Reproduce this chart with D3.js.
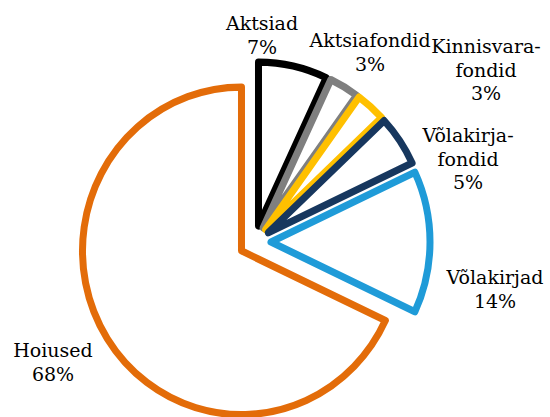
<!DOCTYPE html>
<html>
<head>
<meta charset="utf-8">
<script src="https://cdn.jsdelivr.net/npm/d3@7"></script>
<style>
  body { margin: 0; background: #fff; }
  svg { display: block; }
  text { font-family: "DejaVu Serif", serif; font-size: 19px; fill: #000; }
</style>
</head>
<body>
<div id="viz"></div>
<script>
// data, clockwise from 12 o'clock
const categories = ['Aktsiad', 'Aktsiafondid', 'Kinnisvarafondid', 'Võlakirjafondid', 'Võlakirjad', 'Hoiused'];
const shares = [7, 3, 3, 5, 14, 68];
const labelLines = [
  ['Aktsiad', '7%'],
  ['Aktsiafondid', '3%'],
  ['Kinnisvara-', 'fondid', '3%'],
  ['Võlakirja-', 'fondid', '5%'],
  ['Võlakirjad', '14%'],
  ['Hoiused', '68%']
];

// layout
const width = 550, height = 417;
const center = [255, 242];
const radius = 159;
const stretchY = 1.03; // source image is a little taller than wide
const explode = 16;
const colors = ['#000000', '#7f7f7f', '#ffc000', '#17375e', '#1f9bd8', '#e36c09'];
const labelPos = [[262, 30], [370, 47], [486, 53], [468, 142], [495, 284], [53, 357]];
const lineHeight = 23.5;

const svg = d3.select('#viz').append('svg')
  .attr('width', width)
  .attr('height', height);

const pie = d3.pie().sort(null).value((d) => d).startAngle(0).endAngle(2 * Math.PI);
const arc = d3.arc().innerRadius(0).outerRadius(radius);
const arcs = pie(shares);

const g = svg.append('g')
  .attr('transform', `translate(${center[0]}, ${center[1]}) scale(1, ${stretchY})`);

g.selectAll('path').data(arcs)
  .enter().append('path')
    .attr('d', arc)
    .attr('transform', (d) => {
      const mid = (d.startAngle + d.endAngle) / 2;
      return `translate(${explode * Math.sin(mid)}, ${-explode * Math.cos(mid)})`;
    })
    .attr('fill', '#fff')
    .attr('stroke', (d, i) => colors[i])
    .attr('stroke-width', 7)
    .attr('stroke-linejoin', 'round');

const labels = svg.selectAll('text.label').data(labelLines)
  .enter().append('text')
    .attr('class', 'label')
    .attr('text-anchor', 'middle')
    .attr('x', (d, i) => labelPos[i][0])
    .attr('y', (d, i) => labelPos[i][1]);

labels.selectAll('tspan').data((d, i) => d.map((t) => ({ t, x: labelPos[i][0] })))
  .enter().append('tspan')
    .attr('x', (d) => d.x)
    .attr('dy', (d, j) => j === 0 ? 0 : lineHeight)
    .text((d) => d.t);
</script>
</body>
</html>
